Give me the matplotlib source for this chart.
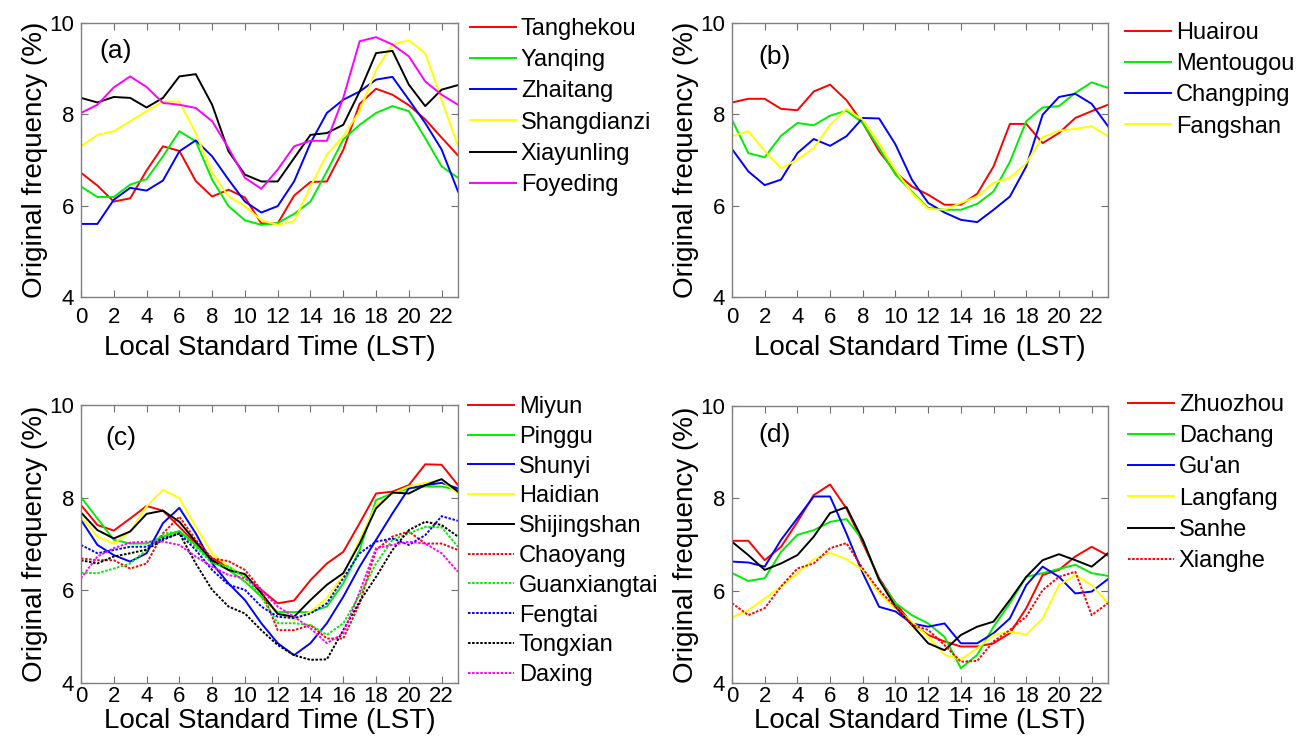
import matplotlib
matplotlib.use("Agg")
import matplotlib.pyplot as plt
import numpy as np

plt.rcParams["font.family"] = ["Liberation Sans", "DejaVu Sans"]

HOURS = np.arange(24)

# panel (a)
tanghekou = [6.72, 6.44, 6.09, 6.16, 6.77, 7.30, 7.20, 6.54, 6.20, 6.35, 6.18, 5.61,
             5.61, 6.22, 6.52, 6.53, 7.22, 8.23, 8.56, 8.43, 8.20, 7.89, 7.49, 7.10]
yanqing = [6.42, 6.19, 6.19, 6.46, 6.58, 7.08, 7.63, 7.41, 6.57, 5.99, 5.68, 5.58,
           5.62, 5.82, 6.09, 6.75, 7.45, 7.77, 8.03, 8.18, 8.07, 7.48, 6.86, 6.61]
zhaitang = [5.60, 5.60, 6.13, 6.39, 6.33, 6.55, 7.19, 7.43, 7.08, 6.57, 6.09, 5.85,
            5.99, 6.53, 7.37, 8.03, 8.32, 8.50, 8.76, 8.82, 8.32, 7.81, 7.23, 6.31]
shangdianzi = [7.30, 7.55, 7.63, 7.85, 8.07, 8.28, 8.28, 7.59, 6.72, 6.20, 5.99, 5.68,
               5.58, 5.66, 6.42, 7.12, 7.52, 8.07, 8.98, 9.53, 9.62, 9.34, 8.32, 7.30]
xiayunling = [8.36, 8.26, 8.38, 8.36, 8.15, 8.36, 8.83, 8.88, 8.21, 7.19, 6.68, 6.53,
              6.53, 7.04, 7.55, 7.59, 7.77, 8.50, 9.34, 9.39, 8.65, 8.18, 8.54, 8.64]
foyeding = [8.03, 8.21, 8.59, 8.83, 8.60, 8.25, 8.21, 8.14, 7.85, 7.26, 6.61, 6.37,
            6.79, 7.30, 7.42, 7.42, 8.36, 9.60, 9.69, 9.53, 9.27, 8.72, 8.43, 8.21]

# panel (b)
huairou = [8.26, 8.34, 8.34, 8.12, 8.09, 8.50, 8.65, 8.31, 7.81, 7.19, 6.73, 6.42,
           6.24, 6.02, 6.02, 6.26, 6.86, 7.79, 7.79, 7.37, 7.59, 7.92, 8.07, 8.21]
mentougou = [7.88, 7.15, 7.06, 7.53, 7.81, 7.76, 7.97, 8.08, 7.81, 7.26, 6.68, 6.31,
             5.95, 5.91, 5.91, 6.04, 6.31, 6.96, 7.85, 8.15, 8.18, 8.47, 8.70, 8.58]
changping = [7.24, 6.75, 6.45, 6.57, 7.15, 7.46, 7.31, 7.52, 7.92, 7.91, 7.34, 6.57,
             6.06, 5.85, 5.69, 5.64, 5.91, 6.20, 6.86, 7.99, 8.38, 8.45, 8.23, 7.74]
fangshan = [7.52, 7.63, 7.20, 6.82, 7.01, 7.26, 7.77, 8.12, 7.88, 7.37, 6.77, 6.28,
            5.93, 5.91, 6.06, 6.20, 6.50, 6.61, 6.93, 7.50, 7.64, 7.68, 7.74, 7.52]

# panel (c)
miyun = [7.84, 7.41, 7.29, 7.55, 7.82, 7.72, 7.37, 7.01, 6.69, 6.51, 6.29, 6.01,
         5.72, 5.78, 6.22, 6.58, 6.83, 7.45, 8.09, 8.13, 8.27, 8.72, 8.71, 8.27]
pinggu = [8.01, 7.55, 7.09, 7.01, 7.01, 7.16, 7.28, 6.98, 6.62, 6.44, 6.19, 5.86,
          5.53, 5.53, 5.53, 5.65, 6.15, 6.87, 7.95, 8.09, 8.20, 8.24, 8.24, 8.17]
shunyi = [7.52, 6.98, 6.76, 6.62, 6.80, 7.45, 7.78, 7.23, 6.58, 6.15, 5.79, 5.29,
          4.86, 4.60, 4.86, 5.29, 5.86, 6.51, 7.09, 7.66, 8.20, 8.27, 8.32, 8.20]
haidian = [7.59, 7.16, 7.01, 7.27, 7.81, 8.17, 7.99, 7.37, 6.80, 6.51, 6.29, 5.94,
           5.50, 5.36, 5.54, 5.83, 6.33, 7.09, 7.84, 8.09, 8.24, 8.32, 8.38, 8.09]
shijingshan = [7.68, 7.30, 7.12, 7.27, 7.65, 7.72, 7.48, 7.05, 6.65, 6.44, 6.35, 5.94,
               5.49, 5.43, 5.79, 6.12, 6.37, 7.01, 7.77, 8.11, 8.09, 8.27, 8.40, 8.13]
chaoyang = [6.69, 6.65, 6.65, 6.47, 6.58, 7.23, 7.59, 7.09, 6.69, 6.63, 6.44, 6.01,
            5.14, 5.14, 5.25, 4.96, 4.96, 5.72, 6.87, 7.16, 7.27, 7.01, 7.01, 6.87]
guanxiangtai = [6.38, 6.37, 6.47, 6.58, 6.87, 7.22, 7.27, 6.94, 6.58, 6.51, 6.29, 5.86,
                5.29, 5.29, 5.25, 5.04, 5.29, 5.90, 6.58, 7.09, 7.23, 7.37, 7.36, 6.94]
fengtai = [6.98, 6.80, 6.87, 6.94, 6.94, 7.12, 7.23, 6.87, 6.44, 6.12, 6.01, 5.65,
           5.43, 5.40, 5.50, 5.72, 6.26, 6.80, 7.05, 7.12, 6.98, 7.19, 7.60, 7.50]
tongxian = [6.65, 6.58, 6.73, 6.80, 6.88, 7.09, 7.23, 6.58, 6.01, 5.65, 5.50, 5.14,
            4.82, 4.60, 4.50, 4.51, 5.14, 5.76, 6.29, 6.87, 7.30, 7.48, 7.41, 7.16]
daxing = [6.26, 6.73, 6.91, 7.03, 7.05, 7.05, 6.98, 6.73, 6.51, 6.33, 6.26, 6.01,
          5.65, 5.43, 5.18, 4.86, 5.07, 5.97, 6.91, 6.98, 7.05, 7.01, 6.80, 6.40]

# panel (d)
zhuozhou = [7.08, 7.08, 6.66, 6.95, 7.49, 8.07, 8.30, 7.78, 7.03, 6.27, 5.73, 5.29,
            5.04, 4.90, 4.79, 4.79, 4.86, 5.08, 5.62, 6.34, 6.45, 6.74, 6.95, 6.76]
dachang = [6.38, 6.21, 6.27, 6.84, 7.21, 7.31, 7.49, 7.55, 7.10, 6.23, 5.73, 5.47,
           5.29, 5.00, 4.32, 4.61, 5.22, 5.73, 6.30, 6.38, 6.47, 6.56, 6.38, 6.32]
guan = [6.63, 6.61, 6.52, 7.10, 7.57, 8.04, 8.04, 7.24, 6.38, 5.65, 5.55, 5.29,
        5.22, 5.29, 4.86, 4.86, 5.08, 5.40, 6.12, 6.52, 6.30, 5.94, 5.98, 6.25]
langfang = [5.42, 5.58, 5.83, 6.09, 6.38, 6.68, 6.82, 6.68, 6.45, 5.94, 5.62, 5.33,
            5.00, 4.61, 4.51, 4.75, 5.04, 5.11, 5.05, 5.40, 6.12, 6.34, 6.12, 5.73]
sanhe = [7.06, 6.77, 6.45, 6.59, 6.77, 7.17, 7.68, 7.81, 7.10, 6.23, 5.65, 5.26,
         4.86, 4.71, 5.04, 5.22, 5.33, 5.80, 6.30, 6.66, 6.79, 6.66, 6.52, 6.81]
xianghe = [5.73, 5.47, 5.62, 6.09, 6.48, 6.59, 6.92, 7.03, 6.48, 6.01, 5.65, 5.26,
           5.15, 4.82, 4.46, 4.48, 4.90, 5.15, 5.44, 6.01, 6.30, 6.41, 5.47, 5.73]

RED, GREEN, BLUE, YELLOW, BLACK, MAGENTA = "#ff0000", "#00ee00", "#0000ff", "#ffff00", "#000000", "#ff00ff"
DOT = (0, (1.3, 0.8))

PANELS = [
    ("(a)", [("Tanghekou", tanghekou, RED, "-"), ("Yanqing", yanqing, GREEN, "-"),
             ("Zhaitang", zhaitang, BLUE, "-"), ("Shangdianzi", shangdianzi, YELLOW, "-"),
             ("Xiayunling", xiayunling, BLACK, "-"), ("Foyeding", foyeding, MAGENTA, "-")]),
    ("(b)", [("Huairou", huairou, RED, "-"), ("Mentougou", mentougou, GREEN, "-"),
             ("Changping", changping, BLUE, "-"), ("Fangshan", fangshan, YELLOW, "-")]),
    ("(c)", [("Miyun", miyun, RED, "-"), ("Pinggu", pinggu, GREEN, "-"),
             ("Shunyi", shunyi, BLUE, "-"), ("Haidian", haidian, YELLOW, "-"),
             ("Shijingshan", shijingshan, BLACK, "-"), ("Chaoyang", chaoyang, RED, DOT),
             ("Guanxiangtai", guanxiangtai, GREEN, DOT), ("Fengtai", fengtai, BLUE, DOT),
             ("Tongxian", tongxian, BLACK, DOT), ("Daxing", daxing, MAGENTA, DOT)]),
    ("(d)", [("Zhuozhou", zhuozhou, RED, "-"), ("Dachang", dachang, GREEN, "-"),
             ("Gu'an", guan, BLUE, "-"), ("Langfang", langfang, YELLOW, "-"),
             ("Sanhe", sanhe, BLACK, "-"), ("Xianghe", xianghe, RED, DOT)]),
]

W, H = 1311, 744
# axes boxes in pixels: left, top, right, bottom
BOXES = [(81, 23, 458, 297), (732, 23, 1108, 297), (81, 405, 458, 683), (732, 406, 1108, 683)]
LABEL_POS = [(0.093, 0.896), (0.114, 0.877), (0.105, 0.881), (0.114, 0.895)]
LEG_ANCHOR = [(470, 18), (1125, 22), (468, 396), (1128, 394)]
LEG_SPACING = [0.39, 0.39, 0.33, 0.39]
XPAD = [7, 7, 2, 2]
XLABELPAD = [5, 5, 1, 1]

fig = plt.figure(figsize=(W / 100, H / 100), dpi=100)

for i, (tag, series) in enumerate(PANELS):
    l, t, r, b = BOXES[i]
    ax = fig.add_axes([l / W, 1 - b / H, (r - l) / W, (b - t) / H])
    for name, vals, color, ls in series:
        ax.plot(HOURS, vals, color=color, linestyle=ls, linewidth=1.4, label=name)
    ax.set_xlim(0, 23)
    ax.set_ylim(4, 10)
    ax.set_xticks(np.arange(0, 23, 2))
    ax.set_yticks([4, 6, 8, 10])
    ax.tick_params(direction="in", length=5, width=0.8, color="#707070",
                   top=True, right=True, labelsize=16)
    ax.tick_params(axis="y", pad=5)
    ax.tick_params(axis="x", pad=XPAD[i])
    for sp in ax.spines.values():
        sp.set_color("#808080")
        sp.set_linewidth(1.0)
    ax.set_xlabel("Local Standard Time (LST)", fontsize=20, labelpad=XLABELPAD[i])
    ax.set_ylabel("Original frequency (%)", fontsize=20, labelpad=0.5)
    ax.text(LABEL_POS[i][0], LABEL_POS[i][1], tag, transform=ax.transAxes,
            fontsize=19, ha="center", va="center")
    lx, ly = LEG_ANCHOR[i]
    ax.legend(loc="upper left", bbox_to_anchor=(lx / W, 1 - ly / H),
              bbox_transform=fig.transFigure, frameon=False, fontsize=17,
              handlelength=1.95, handletextpad=0.2, labelspacing=LEG_SPACING[i],
              borderpad=0, borderaxespad=0)

fig.savefig("out.png", dpi=100)
